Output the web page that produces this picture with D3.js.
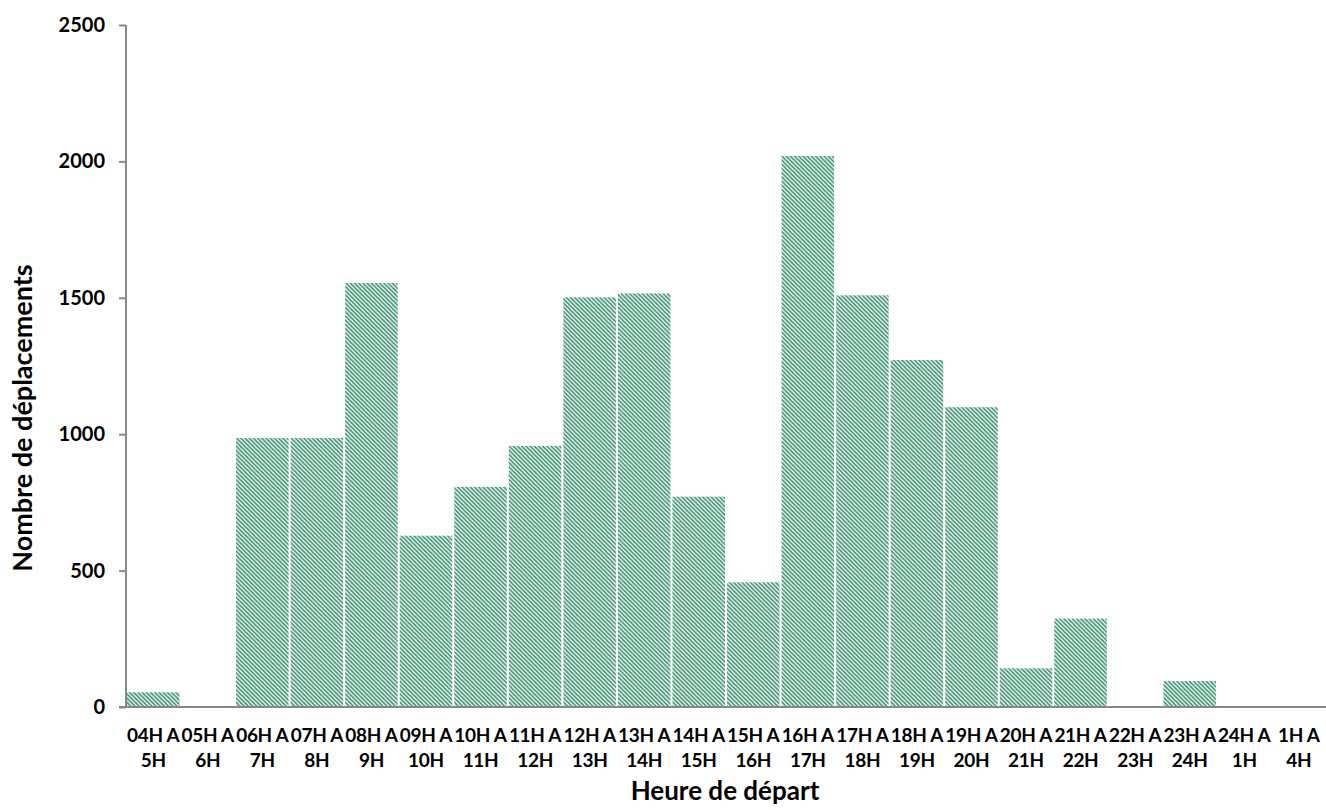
<!DOCTYPE html>
<html>
<head>
<meta charset="utf-8">
<script src="https://cdn.jsdelivr.net/npm/d3@7"></script>
<style>
  html, body { margin: 0; padding: 0; background: #ffffff; }
  svg { display: block; }
  text { font-family: Lato, "Open Sans", sans-serif; font-weight: 700; fill: #000; }
</style>
</head>
<body>
<svg id="chart" width="1326" height="810"></svg>
<script>
// Departure-hour slots (two-line labels: "start A" / "end")
const slotStart = ["04H A","05H A","06H A","07H A","08H A","09H A","10H A","11H A","12H A","13H A","14H A",
                   "15H A","16H A","17H A","18H A","19H A","20H A","21H A","22H A","23H A","24H A","1H A"];
const slotEnd   = ["5H","6H","7H","8H","9H","10H","11H","12H","13H","14H","15H",
                   "16H","17H","18H","19H","20H","21H","22H","23H","24H","1H","4H"];
// Number of trips per slot
const trips = [54, 0, 986, 986, 1554, 628, 807, 957, 1502, 1516, 771,
               457, 2020, 1509, 1272, 1099, 142, 324, 0, 95, 0, 0];
const yTicks = [0, 500, 1000, 1500, 2000, 2500];

const svg = d3.select("#chart");
const plot = { left: 126, right: 1326, top: 25, bottom: 707 };

const x = d3.scaleBand()
  .domain(d3.range(slotStart.length))
  .range([plot.left, plot.right])
  .paddingInner(0.037)
  .paddingOuter(0.018);

const y = d3.scaleLinear().domain([0, 2500]).range([plot.bottom, plot.top]);

// Diagonal hatch fill
const defs = svg.append("defs");
const pat = defs.append("pattern")
  .attr("id", "hatch")
  .attr("patternUnits", "userSpaceOnUse")
  .attr("width", 4.2).attr("height", 4.2);
pat.append("rect").attr("width", 4.2).attr("height", 4.2).attr("fill", "#def9ee");
pat.append("path")
  .attr("d", "M-1,-1 L5.2,5.2 M-1,3.2 L1,5.2 M3.2,-1 L5.2,1")
  .attr("stroke", "#4a8a72")
  .attr("stroke-width", 1.5);

// Bars
svg.append("g").selectAll("rect")
  .data(trips)
  .join("rect")
  .attr("x", (d, i) => x(i))
  .attr("width", x.bandwidth())
  .attr("y", d => y(d))
  .attr("height", d => y(0) - y(d))
  .attr("fill", "url(#hatch)");

// Y axis
const yAxis = svg.append("g")
  .attr("transform", `translate(${plot.left},0)`)
  .call(d3.axisLeft(y).tickValues(yTicks).tickSize(7).tickPadding(14).tickFormat(d3.format("d")));
yAxis.select(".domain").attr("stroke", "#888").attr("stroke-width", 2).attr("d", `M0,${plot.top}V${plot.bottom}`);
yAxis.selectAll(".tick line").attr("stroke", "#888").attr("stroke-width", 2);
yAxis.selectAll(".tick text").style("font-size", "20px").style("font-family", "Lato, sans-serif").style("font-weight", 700).attr("fill", "#000");

// X axis line
svg.append("line")
  .attr("x1", plot.left - 7).attr("x2", plot.right)
  .attr("y1", plot.bottom).attr("y2", plot.bottom)
  .attr("stroke", "#888").attr("stroke-width", 2);

// X tick labels (two lines)
const xl = svg.append("g").selectAll("text")
  .data(slotStart)
  .join("text")
  .attr("x", (d, i) => x(i) + x.bandwidth() / 2)
  .attr("y", 742)
  .attr("text-anchor", "middle")
  .style("font-size", "19px")
  .style("letter-spacing", "-0.3px");
xl.append("tspan").text(d => d);
xl.append("tspan")
  .attr("x", (d, i) => x(i) + x.bandwidth() / 2)
  .attr("dy", 25)
  .text((d, i) => slotEnd[i]);

// Axis titles
svg.append("text")
  .attr("x", 725).attr("y", 800)
  .attr("text-anchor", "middle")
  .style("font-size", "26px")
  .text("Heure de départ");

svg.append("text")
  .attr("transform", "translate(32,418) rotate(-90)")
  .attr("text-anchor", "middle")
  .style("font-size", "27px")
  .text("Nombre de déplacements");
</script>
</body>
</html>
